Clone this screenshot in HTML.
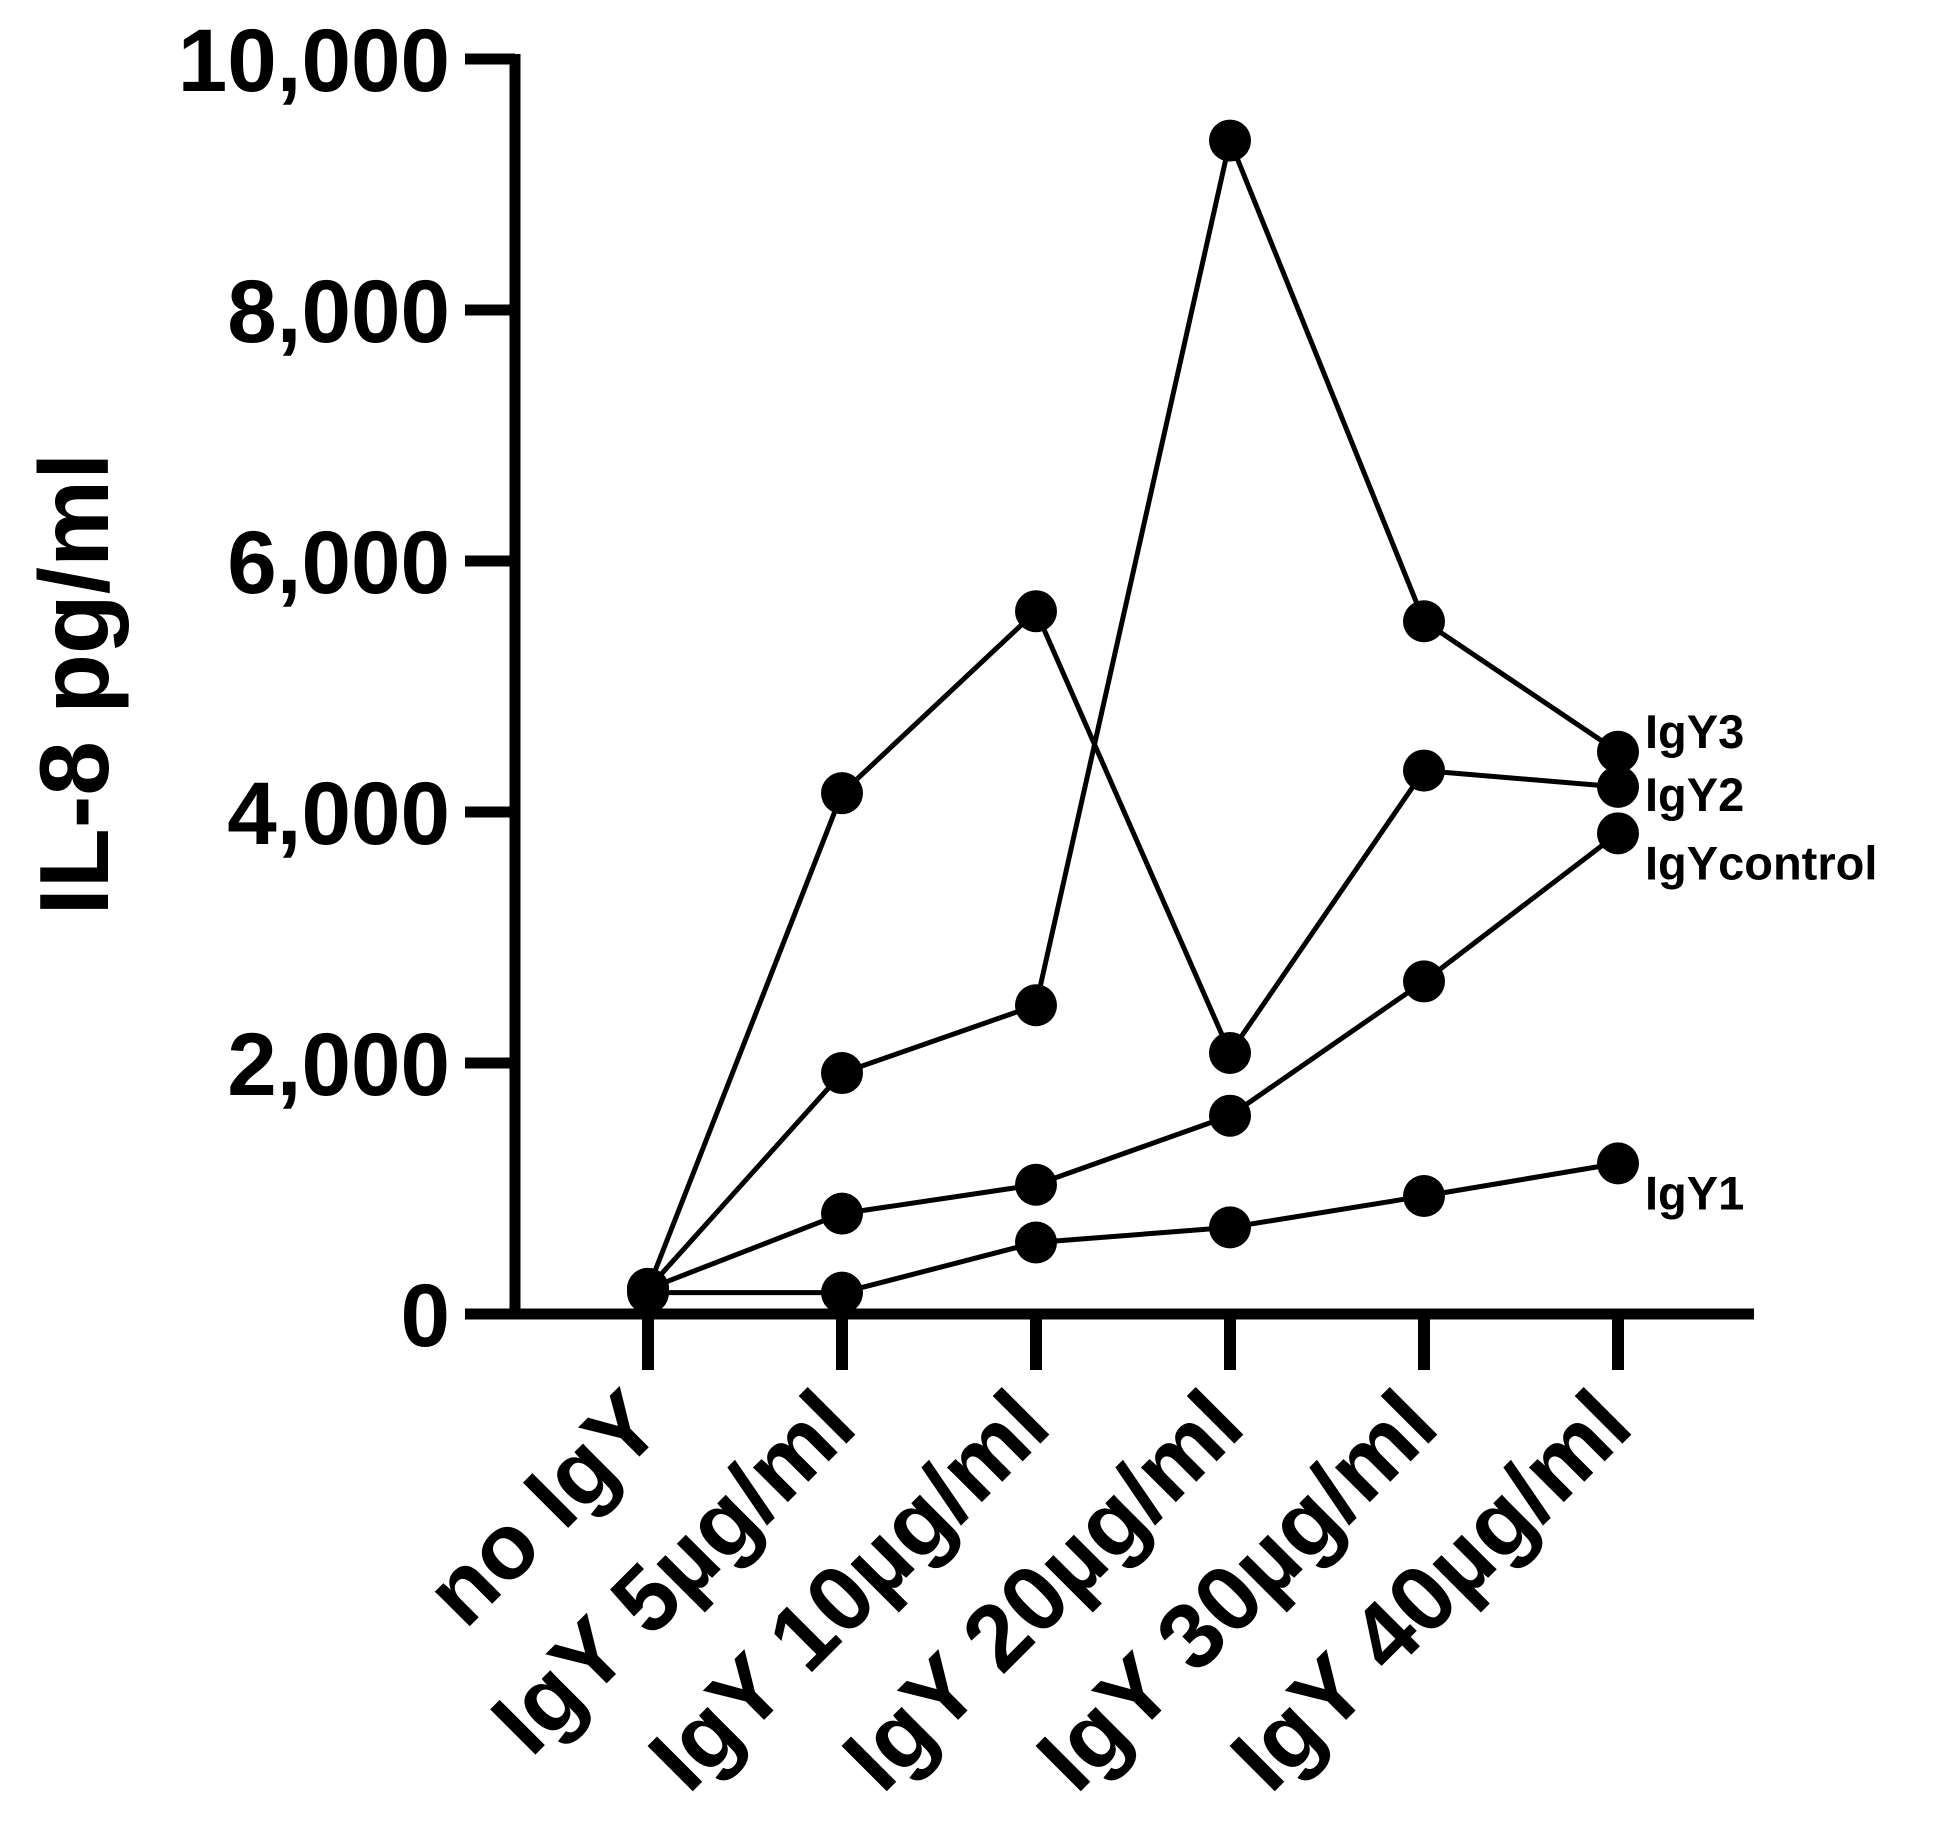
<!DOCTYPE html>
<html><head><meta charset="utf-8"><style>
html,body{margin:0;padding:0;background:#fff;}
svg{display:block;font-family:"Liberation Sans",sans-serif;font-weight:bold;}
</style></head><body>
<svg id="chart" width="1958" height="1833" viewBox="0 0 1958 1833">
<g id="axes"></g>
<g id="series"></g>
<text transform="translate(108,684) rotate(-90)" text-anchor="middle" font-size="98">IL-8 pg/ml</text>
</svg>
<script>
const categories = ["no IgY","IgY 5µg/ml","IgY 10µg/ml","IgY 20µg/ml","IgY 30µg/ml","IgY 40µg/ml"];
const yTicks = [0,2000,4000,6000,8000,10000];
const yTickLabels = ["0","2,000","4,000","6,000","8,000","10,000"];
const seriesNames = ["IgY3","IgY2","IgYcontrol","IgY1"];
const igy3 = [200,1920,2460,9350,5520,4480];
const igy2 = [200,4150,5600,2080,4330,4200];
const igyControl = [200,800,1030,1580,2650,3830];
const igy1 = [170,170,570,690,940,1200];
const seriesValues = [igy3, igy2, igyControl, igy1];

const NS="http://www.w3.org/2000/svg";
const x0=515, y0=1314, yTop=59, xEnd=1754, xFirst=648, xStep=194;
function xs(i){return xFirst+i*xStep;}
function ys(v){return y0-(v/10000)*(y0-yTop);}
function mk(tag,attrs,parent){const e=document.createElementNS(NS,tag);for(const k in attrs)e.setAttribute(k,attrs[k]);parent.appendChild(e);return e;}
const axes=document.getElementById('axes');
const ser=document.getElementById('series');

let l=mk('line',{x1:x0,y1:yTop-5,x2:x0,y2:y0+5,stroke:'#000','stroke-width':11},axes);


l=mk('line',{x1:x0-5,y1:y0,x2:xEnd,y2:y0,stroke:'#000','stroke-width':11},axes);



yTicks.forEach((v,i)=>{
  const t=mk('line',{x1:x0-50,y1:ys(v),x2:x0,y2:ys(v),stroke:'#000','stroke-width':11},axes);
  
  
  const tx=mk('text',{x:450,y:ys(v)+32,'text-anchor':'end','font-size':89},axes);
  tx.textContent=yTickLabels[i];
  
  
});
categories.forEach((c,i)=>{
  const t=mk('line',{x1:xs(i),y1:y0,x2:xs(i),y2:1370,stroke:'#000','stroke-width':12},axes);
  
  
  const tx=mk('text',{transform:`translate(${xs(i)+18},1430) rotate(-45)`,'text-anchor':'end','font-size':93},axes);
  tx.textContent=c;
  
  
});

const labelOffsets=[{dy:-20},{dy:8},{dy:30},{dy:30}];
seriesValues.forEach((vals,s)=>{
  const pts=vals.map((v,i)=>xs(i)+','+ys(v)).join(' ');
  const p=mk('polyline',{points:pts,fill:'none',stroke:'#000','stroke-width':5},ser);
  
  
});
seriesValues.forEach((vals,s)=>{
  vals.forEach((v,i)=>{
    const c=mk('circle',{cx:xs(i),cy:ys(v),r:21,fill:'#000'},ser);
    
    
  });
  const last=vals[vals.length-1];
  const t=mk('text',{x:1645,y:ys(last)+16+labelOffsets[s].dy,'font-size':47},ser);
  t.textContent=seriesNames[s];
  
  
});
</script>
</body></html>
